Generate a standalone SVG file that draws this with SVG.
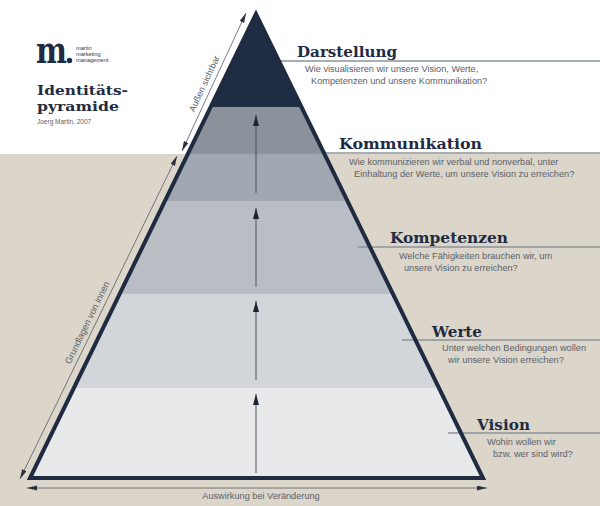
<svg xmlns="http://www.w3.org/2000/svg" width="600" height="506" viewBox="0 0 600 506">
<style>
.title{font-family:"DejaVu Serif","Liberation Serif",serif;font-weight:bold;fill:#1f2b42;font-size:15.5px}
.desc{font-family:"Liberation Sans",Arial,sans-serif;font-size:9.2px;fill:#5b6068}
.lab{font-family:"Liberation Sans",Arial,sans-serif;font-size:9.2px;fill:#5b6068}
.hline{stroke:#8d939b;stroke-width:1.5;fill:none}
.up{stroke:#4d525b;stroke-width:1;fill:none;marker-end:url(#ah)}
.dim{stroke:#555b66;stroke-width:0.8;fill:none;marker-start:url(#sh);marker-end:url(#sh)}
</style>
<defs>
<clipPath id="tri"><polygon points="256,14 30,478 483,478"/></clipPath>
<marker id="ah" markerUnits="userSpaceOnUse" markerWidth="12" markerHeight="7" refX="11" refY="3" orient="auto"><path d="M0,0 L11,3 L0,6 z" fill="#1c2230"/></marker>
<marker id="sh" markerUnits="userSpaceOnUse" markerWidth="11" markerHeight="6" refX="10" refY="2.5" orient="auto-start-reverse"><path d="M0,0 L10,2.5 L0,5 z" fill="#2a3140"/></marker>
</defs>
<rect x="0" y="0" width="600" height="506" fill="#ffffff"/>
<rect x="0" y="154" width="600" height="352" fill="#dcd6ca"/>

<g id="logo">
<text x="36" y="63" font-family="DejaVu Serif,serif" font-weight="bold" font-size="38" fill="#1f2b42" textLength="31" lengthAdjust="spacingAndGlyphs">m</text>
<circle cx="69.5" cy="60.5" r="2.7" fill="#1f2b42"/>
<text x="76" y="50" font-family="Liberation Sans,sans-serif" font-size="5.6" fill="#2d3444">martin</text>
<text x="76" y="56" font-family="Liberation Sans,sans-serif" font-size="5.6" fill="#2d3444">marketing</text>
<text x="76" y="62" font-family="Liberation Sans,sans-serif" font-size="5.6" fill="#2d3444">management</text>
</g>
<g id="heading">
<text class="title" style="font-size:13.5px"><tspan x="37" y="95" textLength="91" lengthAdjust="spacingAndGlyphs">Identitäts-</tspan><tspan x="37" y="111" textLength="82" lengthAdjust="spacingAndGlyphs">pyramide</tspan></text>
<text x="37" y="123.5" font-family="Liberation Sans,sans-serif" font-size="6.5" fill="#5b6068">Joerg Martin, 2007</text>
</g>

<g id="bands" clip-path="url(#tri)">
<rect id="band-darstellung" x="0" y="0" width="600" height="107" fill="#1f2d44"/>
<rect id="band-kommunikation-a" x="0" y="107" width="600" height="47" fill="#8b929c"/>
<rect id="band-kommunikation-b" x="0" y="154" width="600" height="47" fill="#a1a7b0"/>
<rect id="band-kompetenzen" x="0" y="201" width="600" height="93" fill="#b9bec5"/>
<rect id="band-werte" x="0" y="294" width="600" height="94" fill="#d2d5d9"/>
<rect id="band-vision" x="0" y="388" width="600" height="92" fill="#e8e9eb"/>
</g>

<g id="leader-lines">
<line class="hline" x1="280" y1="61" x2="600" y2="61"/>
<line class="hline" x1="312" y1="153" x2="600" y2="153"/>
<line class="hline" x1="358" y1="247" x2="600" y2="247"/>
<line class="hline" x1="402" y1="340" x2="600" y2="340"/>
<line class="hline" x1="448" y1="433" x2="600" y2="433"/>
</g>

<g id="pyramid-outline">
<polygon points="256,14 30,478 483,478" fill="none" stroke="#1e2b40" stroke-width="4" stroke-linejoin="miter"/>
</g>

<g id="connectors">
<line class="up" x1="256" y1="473" x2="256" y2="394"/>
<line class="up" x1="256" y1="380" x2="256" y2="301"/>
<line class="up" x1="256" y1="287" x2="256" y2="208"/>
<line class="up" x1="256" y1="193" x2="256" y2="115"/>
<line class="dim" x1="182" y1="151" x2="246" y2="13"/>
<line class="dim" x1="20" y1="479" x2="177" y2="156"/>
<line class="dim" x1="27" y1="488" x2="487" y2="488"/>
</g>

<g id="axis-labels">
<text class="lab" text-anchor="middle" style="font-size:9px" transform="translate(207,85) rotate(-65)">Außen sichtbar</text>
<text class="lab" text-anchor="middle" transform="translate(90,324) rotate(-64)">Grundlagen von innen</text>
<text class="lab" text-anchor="middle" x="261" y="499">Auswirkung bei Veränderung</text>
</g>

<g id="darstellung">
<text class="title" x="297" y="57" textLength="100" lengthAdjust="spacingAndGlyphs">Darstellung</text>
<text class="desc" x="305" y="72">Wie visualisieren wir unsere Vision, Werte,</text>
<text class="desc" x="311" y="83.5">Kompetenzen und unsere Kommunikation?</text>
</g>
<g id="kommunikation">
<text class="title" x="339" y="149" textLength="143" lengthAdjust="spacingAndGlyphs">Kommunikation</text>
<text class="desc" x="349" y="165">Wie kommunizieren wir verbal und nonverbal, unter</text>
<text class="desc" x="354" y="177">Einhaltung der Werte, um unsere Vision zu erreichen?</text>
</g>
<g id="kompetenzen">
<text class="title" x="390" y="243" textLength="118" lengthAdjust="spacingAndGlyphs">Kompetenzen</text>
<text class="desc" x="399" y="259">Welche Fähigkeiten brauchen wir, um</text>
<text class="desc" x="404" y="271">unsere Vision zu erreichen?</text>
</g>
<g id="werte">
<text class="title" x="432" y="337" textLength="50" lengthAdjust="spacingAndGlyphs">Werte</text>
<text class="desc" x="442" y="351">Unter welchen Bedingungen wollen</text>
<text class="desc" x="448" y="363">wir unsere Vision erreichen?</text>
</g>
<g id="vision">
<text class="title" x="477" y="430" textLength="53" lengthAdjust="spacingAndGlyphs">Vision</text>
<text class="desc" x="487" y="445">Wohin wollen wir</text>
<text class="desc" x="493" y="457">bzw. wer sind wird?</text>
</g>
</svg>
